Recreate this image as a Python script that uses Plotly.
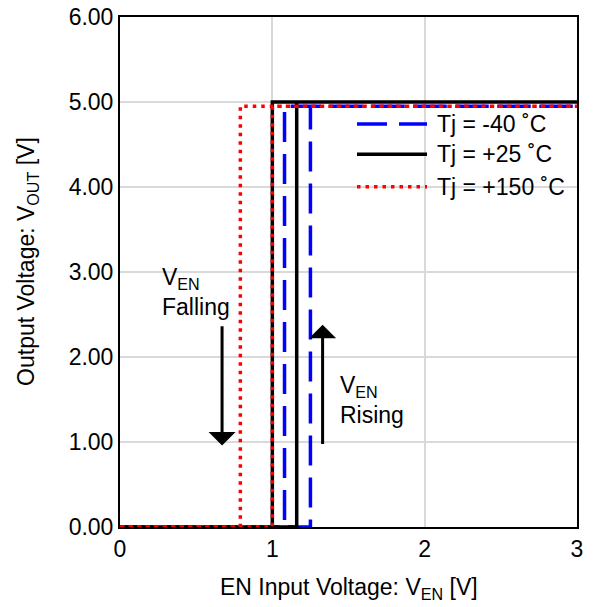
import plotly.graph_objects as go

# Hysteresis loops: x sweep up then down
names = ["Tj = -40 ˚C", "Tj = +25 ˚C", "Tj = +150 ˚C"]
x_m40 = [0, 1.25, 1.25, 3.0, 1.08, 1.08, 0]
y_m40 = [0, 0, 4.95, 4.95, 4.95, 0, 0]
x_p25 = [0, 1.16, 1.16, 3.0, 1.0, 1.0, 0]
y_p25 = [0, 0, 5.0, 5.0, 5.0, 0, 0]
x_p150 = [0, 1.0, 1.0, 3.0, 0.79, 0.79, 0]
y_p150 = [0, 0, 4.95, 4.95, 4.95, 0, 0]

xticks = [0, 1, 2, 3]
yticks = [0, 1, 2, 3, 4, 5, 6]
ytick_text = ["0.00", "1.00", "2.00", "3.00", "4.00", "5.00", "6.00"]

FONT = "Liberation Sans, Arial, sans-serif"
styles = [
    dict(color="#0000ff", width=3.5, dash="30px,12px"),
    dict(color="#000000", width=3.5),
    dict(color="#ff0000", width=3.5, dash="3.5px,5px"),
]

fig = go.Figure()
for xs, ys, nm, st in zip([x_m40, x_p25, x_p150], [y_m40, y_p25, y_p150], names, styles):
    fig.add_trace(go.Scatter(x=xs, y=ys, mode="lines", name=nm, line=st, showlegend=False))

# Manual legend (long sample lines like the reference)
leg_y = [0.790, 0.731, 0.667]
for nm, st, ly in zip(names, styles, leg_y):
    fig.add_shape(type="line", xref="paper", yref="paper", x0=0.5186, x1=0.6718, y0=ly, y1=ly,
                  line=st)
    fig.add_annotation(x=0.689, y=ly, xref="paper", yref="paper", xanchor="left", yanchor="middle",
                       text=nm, showarrow=False, font=dict(family=FONT, size=23, color="black"))

# Arrows
fig.add_annotation(x=0.67, y=0.96, ax=0.67, ay=2.38, xref="x", yref="y", axref="x", ayref="y",
                   showarrow=True, arrowhead=1, arrowsize=1.5, arrowwidth=3, arrowcolor="black", text="")
fig.add_annotation(x=1.33, y=2.38, ax=1.33, ay=0.96, xref="x", yref="y", axref="x", ayref="y",
                   showarrow=True, arrowhead=1, arrowsize=1.5, arrowwidth=3, arrowcolor="black", text="")
fig.add_annotation(x=0.263, y=2.76, xref="x", yref="y", xanchor="left", yanchor="middle",
                   text="V<sub>EN</sub><br>Falling", showarrow=False, align="left",
                   font=dict(family=FONT, size=23, color="black"))
fig.add_annotation(x=1.43, y=1.49, xref="x", yref="y", xanchor="left", yanchor="middle",
                   text="V<sub>EN</sub><br>Rising", showarrow=False, align="left",
                   font=dict(family=FONT, size=23, color="black"))

# Axis titles
fig.add_annotation(x=0.5, y=-0.12, xref="paper", yref="paper", xanchor="center", yanchor="middle",
                   text="EN Input Voltage: V<sub>EN</sub> [V]", showarrow=False,
                   font=dict(family=FONT, size=23, color="black"))
fig.add_annotation(x=-0.201, y=0.52, xref="paper", yref="paper", xanchor="center", yanchor="middle",
                   text="Output Voltage: V<sub>OUT</sub> [V]", showarrow=False, textangle=-90,
                   font=dict(family=FONT, size=23, color="black"))

fig.update_layout(
    width=600, height=607,
    margin=dict(l=120, r=23, t=17, b=80),
    paper_bgcolor="white", plot_bgcolor="white",
    font=dict(family=FONT, size=23, color="black"),
    showlegend=False,
    xaxis=dict(range=[0, 3], tickvals=xticks, ticktext=[str(v) for v in xticks],
               showgrid=True, gridcolor="#d9d9d9", gridwidth=2,
               showline=True, linecolor="black", linewidth=2, mirror=True,
               zeroline=False, ticks="", ticklen=0, automargin=False,
               ticklabeloverflow="allow", tickfont=dict(size=23)),
    yaxis=dict(range=[0, 6], tickvals=yticks, ticktext=ytick_text,
               showgrid=True, gridcolor="#d9d9d9", gridwidth=2,
               showline=True, linecolor="black", linewidth=2, mirror=True,
               zeroline=False, ticks="", ticklen=0, automargin=False,
               ticklabeloverflow="allow", tickfont=dict(size=23)),
)

fig.write_html("out.html", config={"displayModeBar": False},
               post_script="document.body.style.margin='0';")
